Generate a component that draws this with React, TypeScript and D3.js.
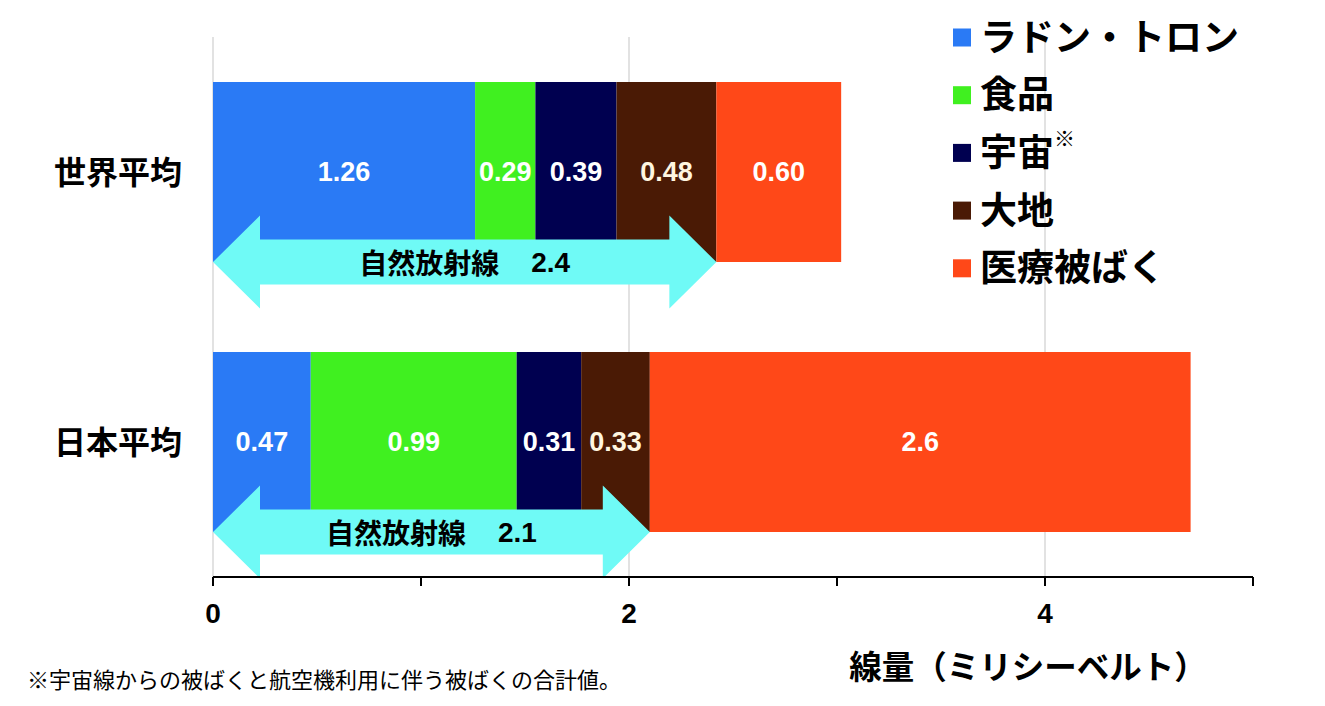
import React from "react";
import * as d3 from "d3";

const categories = ["世界平均", "日本平均"];
const seriesNames = ["ラドン・トロン", "食品", "宇宙", "大地", "医療被ばく"];
const seriesColors = ["#2A7AF5", "#40F020", "#000050", "#4A1A05", "#FF4818"];
const labelColors = ["#ffffff", "#ffffff", "#ffffff", "#FFF6E0", "#ffffff"];
const worldValues = [1.26, 0.29, 0.39, 0.48, 0.6];
const japanValues = [0.47, 0.99, 0.31, 0.33, 2.6];
const valueLabels = [
  ["1.26", "0.29", "0.39", "0.48", "0.60"],
  ["0.47", "0.99", "0.31", "0.33", "2.6"],
];
const naturalCount = 4; // first four series are natural radiation
const naturalLabels = ["2.4", "2.1"];
const xTicks = [0, 1, 2, 3, 4, 5];
const xTickLabels = ["0", "", "2", "", "4", ""];
const gridValues = [0, 2, 4];

const W = 1325;
const H = 706;
const NUM_FONT = "'Liberation Sans', Arial, sans-serif";
const JP_FONT = "'Noto Sans CJK JP', 'Noto Sans', sans-serif";

export default function App() {
  const x = d3.scaleLinear().domain([0, 5]).range([213, 1253]);
  const y = d3
    .scaleBand<string>()
    .domain(categories)
    .range([37, 577])
    .paddingInner(1 / 3)
    .paddingOuter(1 / 6);
  const axisY = 577;
  const rows = [worldValues, japanValues];

  const arrowPath = (x0: number, x1: number, cy: number) => {
    const head = 47;
    const hh = 46.5;
    const sh = 22.5;
    const p = d3.path();
    p.moveTo(x0, cy);
    p.lineTo(x0 + head, cy - hh);
    p.lineTo(x0 + head, cy - sh);
    p.lineTo(x1 - head, cy - sh);
    p.lineTo(x1 - head, cy - hh);
    p.lineTo(x1, cy);
    p.lineTo(x1 - head, cy + hh);
    p.lineTo(x1 - head, cy + sh);
    p.lineTo(x0 + head, cy + sh);
    p.lineTo(x0 + head, cy + hh);
    p.closePath();
    return p.toString();
  };

  return (
    <svg
      width={W}
      height={H}
      style={{ position: "absolute", left: 0, top: 0, background: "#fff" }}
    >
      {/* grid */}
      {gridValues.map((g) => (
        <line
          key={"g" + g}
          x1={x(g)}
          x2={x(g)}
          y1={37}
          y2={axisY}
          stroke="#d9d9d9"
          strokeWidth={1.5}
        />
      ))}

      {/* bars */}
      {rows.map((vals, ri) => {
        const cat = categories[ri];
        const y0 = y(cat)!;
        const bw = y.bandwidth();
        const cum = d3.cumsum(vals);
        return (
          <g key={cat}>
            {vals.map((v, si) => {
              const start = si === 0 ? 0 : cum[si - 1];
              const x0 = x(start);
              const x1 = x(start + v);
              return (
                <g key={si}>
                  <rect
                    x={x0}
                    y={y0}
                    width={x1 - x0}
                    height={bw}
                    fill={seriesColors[si]}
                  />
                  <text
                    x={(x0 + x1) / 2}
                    y={y0 + bw / 2}
                    textAnchor="middle"
                    dominantBaseline="central"
                    fontFamily={NUM_FONT}
                    fontWeight="bold"
                    fontSize={27}
                    fill={labelColors[si]}
                  >
                    {valueLabels[ri][si]}
                  </text>
                </g>
              );
            })}
            <text
              x={182}
              y={y0 + bw / 2 - 2}
              textAnchor="end"
              dominantBaseline="central"
              fontFamily={JP_FONT}
              fontWeight="bold"
              fontSize={32}
              fill="#000"
            >
              {cat}
            </text>
          </g>
        );
      })}

      {/* natural radiation arrows */}
      {rows.map((vals, ri) => {
        const cat = categories[ri];
        const cy = y(cat)! + y.bandwidth();
        const total = d3.sum(vals.slice(0, naturalCount));
        const x0 = x(0);
        const x1 = x(total);
        const cx = (x0 + x1) / 2;
        return (
          <g key={"a" + ri}>
            <path d={arrowPath(x0, x1, cy)} fill="#6FFAF6" />
            <text
              x={cx}
              y={cy}
              textAnchor="middle"
              dominantBaseline="central"
              fontFamily={JP_FONT}
              fontWeight="bold"
              fontSize={28}
              fill="#000"
            >
              <tspan>自然放射線</tspan>
              <tspan dx={32} fontFamily={NUM_FONT}>
                {naturalLabels[ri]}
              </tspan>
            </text>
          </g>
        );
      })}

      {/* x axis */}
      <line
        x1={x(0)}
        x2={x(5)}
        y1={axisY}
        y2={axisY}
        stroke="#000"
        strokeWidth={2}
      />
      {xTicks.map((t, i) => (
        <g key={"t" + t}>
          <line
            x1={x(t)}
            x2={x(t)}
            y1={axisY}
            y2={axisY + 9}
            stroke="#000"
            strokeWidth={2}
          />
          {xTickLabels[i] && (
            <text
              x={x(t)}
              y={613}
              textAnchor="middle"
              dominantBaseline="central"
              fontFamily={NUM_FONT}
              fontWeight="bold"
              fontSize={28}
              fill="#000"
            >
              {xTickLabels[i]}
            </text>
          )}
        </g>
      ))}

      <text
        x={1028}
        y={664}
        textAnchor="middle"
        dominantBaseline="central"
        fontFamily={JP_FONT}
        fontWeight="bold"
        fontSize={32.5}
        fill="#000"
      >
        線量（ミリシーベルト）
      </text>

      <text
        x={27}
        y={678}
        dominantBaseline="central"
        fontFamily={JP_FONT}
        fontSize={22}
        fill="#000"
      >
        ※宇宙線からの被ばくと航空機利用に伴う被ばくの合計値。
      </text>

      {/* legend */}
      {seriesNames.map((name, i) => {
        const cy = 37.5 + i * 57.7;
        return (
          <g key={"l" + i}>
            <rect
              x={953}
              y={cy - 9}
              width={18}
              height={18}
              fill={seriesColors[i]}
            />
            <text
              x={980}
              y={cy - 3}
              dominantBaseline="central"
              fontFamily={JP_FONT}
              fontWeight="bold"
              fontSize={37}
              fill="#000"
            >
              {name}
              {i === 2 && (
                <tspan fontSize={21} fontWeight="normal" dy={-13}>
                  ※
                </tspan>
              )}
            </text>
          </g>
        );
      })}
    </svg>
  );
}
